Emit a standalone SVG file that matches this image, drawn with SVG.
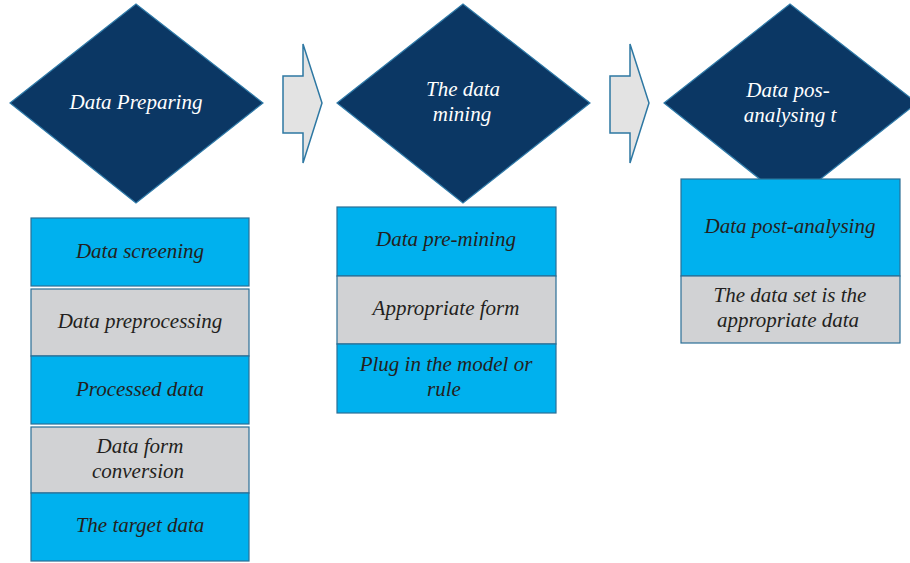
<svg xmlns="http://www.w3.org/2000/svg" width="910" height="563" viewBox="0 0 910 563">
  <style>
    .dia { fill: #0b3764; stroke: #2f7aa8; stroke-width: 1.2; }
    .arr { fill: #e3e3e3; stroke: #2e78a3; stroke-width: 1.5; }
    .blue { fill: #00b1ee; stroke: #2a6f96; stroke-width: 1.2; }
    .gray { fill: #d1d2d4; stroke: #2a6f96; stroke-width: 1.2; }
    text { font-family: "Liberation Serif", "DejaVu Serif", serif; font-style: italic; font-size: 21px; text-anchor: middle; }
    .dt { fill: #ffffff; }
    .bt { fill: #231f20; }
  </style>
  <rect width="910" height="563" fill="#ffffff"/>

  <!-- stage diamonds -->
  <g id="stage-preparing">
    <polygon class="dia" points="10,103 136,4 263,103 136,203"/>
    <text class="dt" x="136" y="109">Data Preparing</text>
  </g>
  <g id="stage-mining">
    <polygon class="dia" points="337,103 463,4 590,103 463,203"/>
    <text class="dt" x="463" y="96">The data</text>
    <text class="dt" x="462" y="121">mining</text>
  </g>
  <g id="stage-postanalysing">
    <polygon class="dia" points="664,103 790,4 917,103 790,203"/>
    <text class="dt" x="788" y="97">Data pos-</text>
    <text class="dt" x="790" y="122">analysing t</text>
  </g>

  <!-- block arrows between stages -->
  <g id="connectors">
    <polygon class="arr" points="283,76 303,76 303,44 322,103 303,163 303,133 283,133"/>
    <polygon class="arr" points="610,76 630,76 630,44 649,103 630,163 630,133 610,133"/>
  </g>

  <!-- preparing steps -->
  <g id="step-screening">
    <rect class="blue" x="31" y="218" width="218" height="68"/>
    <text class="bt" x="140" y="258">Data screening</text>
  </g>
  <g id="step-preprocessing">
    <rect class="gray" x="31" y="289" width="218" height="67"/>
    <text class="bt" x="140" y="328">Data preprocessing</text>
  </g>
  <g id="step-processed">
    <rect class="blue" x="31" y="356" width="218" height="68"/>
    <text class="bt" x="140" y="396">Processed data</text>
  </g>
  <g id="step-conversion">
    <rect class="gray" x="31" y="427" width="218" height="66"/>
    <text class="bt" x="140" y="453">Data form</text>
    <text class="bt" x="138" y="478">conversion</text>
  </g>
  <g id="step-target">
    <rect class="blue" x="31" y="493" width="218" height="68"/>
    <text class="bt" x="140" y="532">The target data</text>
  </g>

  <!-- mining steps -->
  <g id="step-premining">
    <rect class="blue" x="337" y="207" width="219" height="69"/>
    <text class="bt" x="446" y="246">Data pre-mining</text>
  </g>
  <g id="step-form">
    <rect class="gray" x="337" y="276" width="219" height="68"/>
    <text class="bt" x="446" y="315">Appropriate form</text>
  </g>
  <g id="step-plug">
    <rect class="blue" x="337" y="344" width="219" height="69"/>
    <text class="bt" x="446" y="371">Plug in the model or</text>
    <text class="bt" x="444" y="396">rule</text>
  </g>

  <!-- post-analysing steps -->
  <g id="step-postanalysing">
    <rect class="blue" x="681" y="179" width="219" height="97"/>
    <text class="bt" x="790" y="233">Data post-analysing</text>
  </g>
  <g id="step-dataset">
    <rect class="gray" x="681" y="276" width="219" height="67"/>
    <text class="bt" x="790" y="302">The data set is the</text>
    <text class="bt" x="788" y="327">appropriate data</text>
  </g>
</svg>
